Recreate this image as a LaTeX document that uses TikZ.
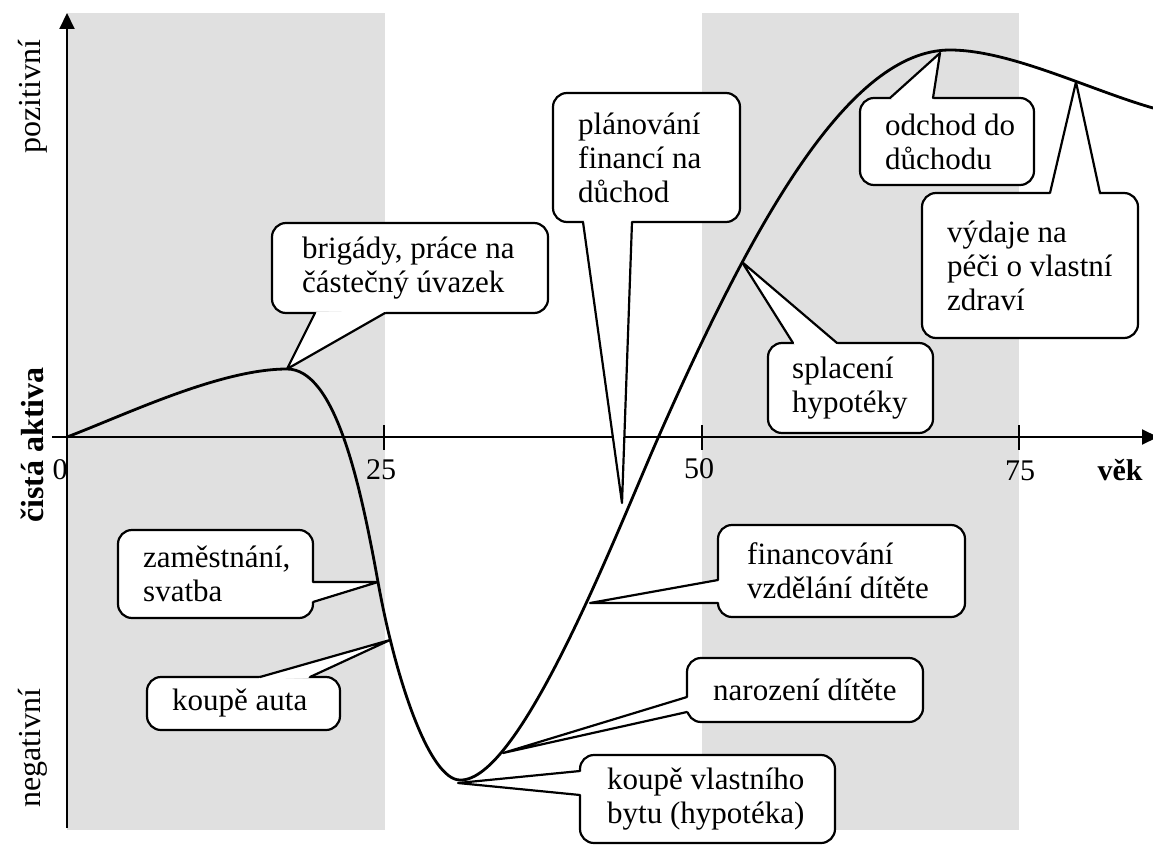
\documentclass[tikz,border=0pt]{standalone}
\usepackage{fontspec}
\setmainfont{Liberation Serif}
\usetikzlibrary{calc,arrows.meta}

\newcommand\calloutfont{\fontsize{31}{34}\selectfont}
\newcommand\sidefont{\fontsize{32}{36}\selectfont}
\newcommand\tickfont{\fontsize{30}{34}\selectfont}

\tikzset{
  band/.style={fill=black!12},
  axisline/.style={line width=2pt},
  tickmark/.style={line width=2pt},
  lifecurve/.style={line width=2.8pt, line join=round, line cap=round},
  bubblebody/.style={draw=black, fill=white, line width=2.2pt, rounded corners=14pt,
    inner sep=0pt, outer sep=0pt},
  pointerline/.style={draw=black, line width=2.2pt, line join=round, line cap=round},
  bubbletext/.style={font=\calloutfont, align=left, inner sep=0pt, anchor=west},
  ticklabel/.style={font=\tickfont, inner sep=0pt},
  sidelabel/.style={font=\sidefont, rotate=90, inner sep=0pt},
}

% rounded speech-bubble body: name, left, top, width, height
\newcommand\bubblebox[5]{\node[bubblebody, minimum width=#4pt, minimum height=#5pt,
  anchor=north west] (#1) at (#2,#3) {};}

% pointer wedge of a bubble: name, first base point, second base point, tip
\newcommand\bubblepointer[4]{%
  \fill[white] ($(#2)!3pt!(#1.center)$) -- (#2) -- (#4) -- (#3)
    -- ($(#3)!3pt!(#1.center)$) -- cycle;
  \draw[pointerline] (#2) -- (#4) -- (#3);}

\begin{document}
\begin{tikzpicture}[x=1pt, y=-1pt]
  \useasboundingbox (0,0) rectangle (1153,845);

  % shaded life phases
  \fill[band] (67,13) rectangle (385,830);
  \fill[band] (702,13) rectangle (1019,830);

  % axes
  \coordinate (ytop) at (67,13);
  \coordinate (ybot) at (67,828);
  \coordinate (xleft) at (52,437);
  \coordinate (xright) at (1158,437);
  \draw[axisline, -{Triangle[length=16pt, width=15pt]}] (ybot) -- (ytop);
  \draw[axisline, -{Triangle[length=16pt, width=15pt]}] (xleft) -- (xright);
  \foreach \tx/\nm in {384/t25, 702/t50, 1019/t75} {
    \coordinate (\nm-a) at (\tx,425);
    \coordinate (\nm-b) at (\tx,450);
    \draw[tickmark] (\nm-a) -- (\nm-b);
  }

  \node[ticklabel] (l0) at (60,470) {0};
  \node[ticklabel] (l25) at (381,470) {25};
  \node[ticklabel] (l50) at (699,469) {50};
  \node[ticklabel] (l75) at (1020,471) {75};
  \node[ticklabel, font=\tickfont\bfseries] (lvek) at (1120,470) {věk};

  \node[sidelabel] (pos) at (33,97) {pozitivní};
  \node[sidelabel, font=\sidefont\bfseries] (net) at (32,445) {čistá aktiva};
  \node[sidelabel] (neg) at (33,748) {negativní};

  % net assets over a lifetime
  \coordinate (c0) at (67,437);
  \coordinate (c1) at (287,369);
  \coordinate (c2) at (378,582);
  \coordinate (c3) at (460,780);
  \coordinate (c4) at (658,438);
  \coordinate (c5) at (950,50);
  \coordinate (c6) at (1153,108);
  \draw[lifecurve] (c0) .. controls (125,415) and (220,369) .. (c1)
    .. controls (335,369) and (360,482) .. (c2)
    .. controls (396,682) and (430,780) .. (c3)
    .. controls (520,782) and (615,536) .. (c4)
    .. controls (755,218) and (850,50) .. (c5)
    .. controls (1010,50) and (1090,90) .. (c6);

  % pointer tips
  \coordinate (tip-brig) at (287,369);
  \coordinate (tip-plan) at (622,503);
  \coordinate (tip-odch) at (940,53);
  \coordinate (tip-vyd) at (1076,82);
  \coordinate (tip-spl) at (742,262);
  \coordinate (tip-zam) at (378,582);
  \coordinate (tip-auto) at (390,640);
  \coordinate (tip-fin) at (590,603);
  \coordinate (tip-nar) at (503,753);
  \coordinate (tip-byt) at (458,783);

  % speech bubbles
  \bubblebox{brig}{272}{223}{276}{90}
  \bubblebox{plan}{553}{93}{187}{129}
  \bubblebox{odch}{860}{98}{174}{87}
  \bubblebox{vyd}{922}{193}{216}{145}
  \bubblebox{spl}{768}{343}{165}{90}
  \bubblebox{zam}{118}{530}{195}{88}
  \bubblebox{auto}{147}{677}{193}{53}
  \bubblebox{fin}{718}{525}{247}{92}
  \bubblebox{nar}{687}{658}{236}{64}
  \bubblebox{byt}{580}{755}{255}{88}

  \coordinate (brig-p) at ([xshift=43pt]brig.south west);
  \coordinate (brig-q) at ([xshift=113pt]brig.south west);
  \coordinate (plan-p) at ([xshift=30pt]plan.south west);
  \coordinate (plan-q) at ([xshift=79pt]plan.south west);
  \coordinate (odch-p) at ([xshift=30pt]odch.north west);
  \coordinate (odch-q) at ([xshift=73pt]odch.north west);
  \coordinate (vyd-p) at ([xshift=128pt]vyd.north west);
  \coordinate (vyd-q) at ([xshift=178pt]vyd.north west);
  \coordinate (spl-p) at ([xshift=25pt]spl.north west);
  \coordinate (spl-q) at ([xshift=69pt]spl.north west);
  \coordinate (zam-p) at ([yshift=-52pt]zam.north east);
  \coordinate (zam-q) at ([yshift=-72pt]zam.north east);
  \coordinate (auto-p) at ([xshift=113pt]auto.north west);
  \coordinate (auto-q) at ([xshift=163pt]auto.north west);
  \coordinate (fin-p) at ([yshift=-55pt]fin.north west);
  \coordinate (fin-q) at ([yshift=-78pt]fin.north west);
  \coordinate (nar-p) at ([yshift=-39pt]nar.north west);
  \coordinate (nar-q) at ([yshift=-54pt]nar.north west);
  \coordinate (byt-p) at ([yshift=-16pt]byt.north west);
  \coordinate (byt-q) at ([yshift=-40pt]byt.north west);

  \bubblepointer{brig}{brig-p}{brig-q}{tip-brig}
  \bubblepointer{plan}{plan-p}{plan-q}{tip-plan}
  \bubblepointer{odch}{odch-p}{odch-q}{tip-odch}
  \bubblepointer{vyd}{vyd-p}{vyd-q}{tip-vyd}
  \bubblepointer{spl}{spl-p}{spl-q}{tip-spl}
  \bubblepointer{zam}{zam-p}{zam-q}{tip-zam}
  \bubblepointer{auto}{auto-p}{auto-q}{tip-auto}
  \bubblepointer{fin}{fin-p}{fin-q}{tip-fin}
  \bubblepointer{nar}{nar-p}{nar-q}{tip-nar}
  \bubblepointer{byt}{byt-p}{byt-q}{tip-byt}

  \node[bubbletext] (brig-t) at ([xshift=30pt]brig.west) {brigády, práce na\\částečný úvazek};
  \node[bubbletext] (plan-t) at ([xshift=25pt]plan.west) {plánování\\financí na\\důchod};
  \node[bubbletext] (odch-t) at ([xshift=25pt]odch.west) {odchod do\\důchodu};
  \node[bubbletext] (vyd-t) at ([xshift=25pt]vyd.west) {výdaje na\\péči o vlastní\\zdraví};
  \node[bubbletext] (spl-t) at ([xshift=24pt]spl.west) {splacení\\hypotéky};
  \node[bubbletext] (zam-t) at ([xshift=25pt]zam.west) {zaměstnání,\\svatba};
  \node[bubbletext] (auto-t) at ([xshift=25pt]auto.west) {koupě auta};
  \node[bubbletext] (fin-t) at ([xshift=29pt]fin.west) {financování\\vzdělání dítěte};
  \node[bubbletext] (nar-t) at ([xshift=26pt]nar.west) {narození dítěte};
  \node[bubbletext] (byt-t) at ([xshift=27pt]byt.west) {koupě vlastního\\bytu (hypotéka)};
\end{tikzpicture}
\end{document}
